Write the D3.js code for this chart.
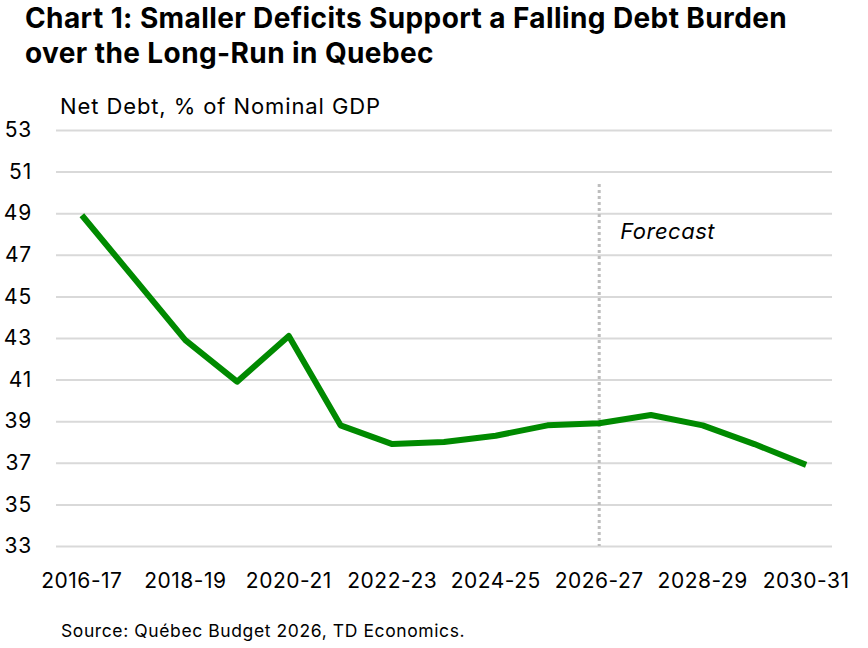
<!DOCTYPE html>
<html>
<head>
<meta charset="utf-8">
<script src="https://cdn.jsdelivr.net/npm/d3@7"></script>
<style>
  body { margin: 0; background: #fff; }
  svg { display: block; font-family: Inter, "Noto Sans", sans-serif; }
</style>
</head>
<body>
<svg id="chart" width="868" height="648"></svg>
<script>
// Net debt, % of nominal GDP
const years = ['2016-17', '2017-18', '2018-19', '2019-20', '2020-21', '2021-22', '2022-23',
  '2023-24', '2024-25', '2025-26', '2026-27', '2027-28', '2028-29', '2029-30', '2030-31'];
const netDebt = [48.9, 45.9, 42.9, 40.9, 43.1, 38.8, 37.9, 38.0, 38.3, 38.8, 38.9, 39.3, 38.8, 37.9, 36.9];
const yTicks = [33, 35, 37, 39, 41, 43, 45, 47, 49, 51, 53];
const xTickLabels = ['2016-17', '2018-19', '2020-21', '2022-23', '2024-25', '2026-27', '2028-29', '2030-31'];
const forecastStart = '2026-27';

const margin = {top: 130, right: 36, bottom: 102, left: 56},
  width = 868 - margin.left - margin.right,
  height = 648 - margin.top - margin.bottom;

const svg = d3.select('#chart');

// Title
const title = svg.append('text')
  .attr('x', 25).attr('y', 28)
  .attr('font-size', 28).attr('font-weight', 700).attr('letter-spacing', 0.4).attr('fill', '#000');
title.append('tspan').attr('x', 25).text('Chart 1: Smaller Deficits Support a Falling Debt Burden');
title.append('tspan').attr('x', 25).attr('dy', 35).text('over the Long-Run in Quebec');

svg.append('text')
  .attr('x', 60).attr('y', 114)
  .attr('font-size', 22).attr('letter-spacing', 0.9).attr('fill', '#000')
  .text('Net Debt, % of Nominal GDP');

const g = svg.append('g').attr('transform', `translate(${margin.left},${margin.top})`);

const x = d3.scaleBand().domain(years).range([0, width]);
const y = d3.scaleLinear().domain([33, 53]).range([height, 0]);
const cx = d => x(d) + x.bandwidth() / 2;

// Gridlines + y labels
const yAxis = g.append('g')
  .call(d3.axisLeft(y).tickValues(yTicks).tickSize(-width).tickPadding(24).tickFormat(d3.format('d')));
yAxis.select('.domain').remove();
yAxis.selectAll('.tick line').attr('stroke', '#d9d9d9').attr('stroke-width', 2);
yAxis.selectAll('.tick text').attr('font-size', 21).attr('letter-spacing', 0.8).attr('fill', '#000')
  .attr('font-family', 'Inter, sans-serif');

// X labels
const xAxis = g.append('g')
  .attr('transform', `translate(0,${height})`)
  .call(d3.axisBottom(x).tickValues(xTickLabels).tickSize(0).tickPadding(27));
xAxis.select('.domain').remove();
xAxis.selectAll('.tick text').attr('font-size', 21).attr('letter-spacing', 0.5).attr('fill', '#000')
  .attr('font-family', 'Inter, sans-serif');

// Forecast marker
g.append('line')
  .attr('x1', cx(forecastStart)).attr('x2', cx(forecastStart))
  .attr('y1', y(50.4)).attr('y2', height)
  .attr('stroke', '#bdbdbd').attr('stroke-width', 3).attr('stroke-dasharray', '3,3');

g.append('text')
  .attr('x', cx(forecastStart) + 21).attr('y', y(47.75))
  .attr('font-size', 22).attr('font-style', 'italic').attr('letter-spacing', 0.5).attr('fill', '#000')
  .text('Forecast');

// Line
const line = d3.line()
  .x((d, i) => cx(years[i]))
  .y(d => y(d));

g.append('path')
  .datum(netDebt)
  .attr('d', line)
  .attr('fill', 'none')
  .attr('stroke', '#008a00')
  .attr('stroke-width', 6)
  .attr('stroke-linejoin', 'round');

// Source
svg.append('text')
  .attr('x', 61).attr('y', 637)
  .attr('font-size', 17.5).attr('letter-spacing', 0.6).attr('fill', '#000')
  .text('Source: Québec Budget 2026, TD Economics.');
</script>
</body>
</html>
